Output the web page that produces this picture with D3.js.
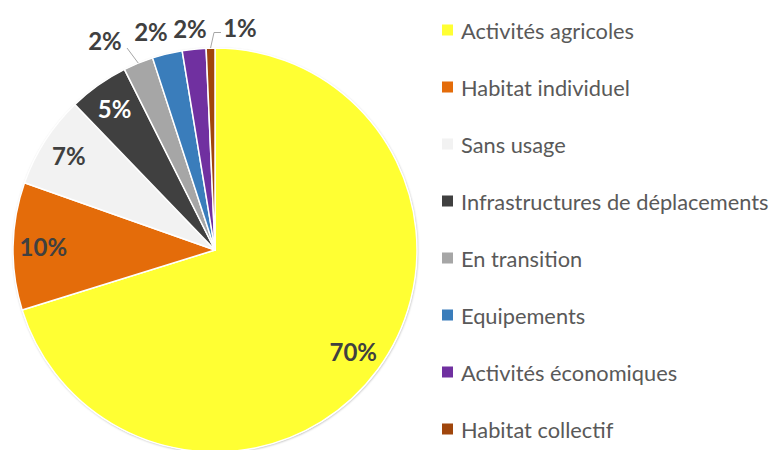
<!DOCTYPE html>
<html><head><meta charset="utf-8">
<script src="https://cdn.jsdelivr.net/npm/d3@7/dist/d3.min.js"></script>
<style>body{margin:0;background:#fff}svg{display:block}</style>
</head><body>
<svg id="chart" width="773" height="450"></svg>
<script>
const categories = ["Activités agricoles","Habitat individuel","Sans usage","Infrastructures de déplacements","En transition","Equipements","Activités économiques","Habitat collectif"];
const values = [70.2, 10.2, 7.4, 4.8, 2.4, 2.4, 1.9, 0.7];
const colors = ["#FFFF33","#E46C0A","#F2F2F2","#404040","#A6A6A6","#3A7DBB","#7030A0","#A0460C"];
const labelColors = ["#404040","#404040","#404040","#FFFFFF","#404040","#404040","#404040","#404040"];

const svg = d3.select("#chart");
const cx = 215, cy = 250, r = 202;
const total = d3.sum(values);
const data = categories.map((c,i)=>({name:c, value:values[i], color:colors[i], lc:labelColors[i]}));

const pie = d3.pie().value(d=>d.value).sort(null).startAngle(0).endAngle(2*Math.PI);
const arcs = pie(data);
const arc = d3.arc().innerRadius(0).outerRadius(r);

const defs = svg.append("defs");
const f = defs.append("filter").attr("id","sh").attr("x","-10%").attr("y","-10%").attr("width","120%").attr("height","120%");
f.append("feDropShadow").attr("dx",0.5).attr("dy",0.8).attr("stdDeviation",1.2).attr("flood-color","#000").attr("flood-opacity",0.35);

const g = svg.append("g").attr("transform",`translate(${cx},${cy})`);
g.append("circle").attr("r",r).attr("fill","#fff").attr("filter","url(#sh)");
g.selectAll("path.slice").data(arcs).enter().append("path")
  .attr("class","slice").attr("d",arc).attr("fill",d=>d.data.color)
  .attr("stroke","#fff").attr("stroke-width",1.5).attr("stroke-linejoin","round");

const inside = [0.85, 0.85, 0.86, 0.86];
const fmt = d=>Math.round(d.value/total*100)+"%";
const lab = svg.append("g").attr("font-family","Lato, 'Open Sans', sans-serif").attr("font-weight","bold").attr("font-size","24px");
arcs.forEach((a,i)=>{
  const mid = (a.startAngle+a.endAngle)/2;
  let x, y;
  if (i < 4) {
    const rr = r*inside[i];
    x = cx + rr*Math.sin(mid); y = cy - rr*Math.cos(mid);
  } else {
    const outs = [[105,40],[151,31],[190,28],[240,27]];
    x = outs[i-4][0]; y = outs[i-4][1];
  }
  lab.append("text").attr("x",x).attr("y",y).attr("text-anchor","middle").attr("dominant-baseline","central")
    .attr("fill",a.data.lc).text(fmt(a.data));
});

function edge(i, extra){ const a=arcs[i]; const m=(a.startAngle+a.endAngle)/2; return [cx+(r+extra)*Math.sin(m), cy-(r+extra)*Math.cos(m)]; }
const e4 = edge(4,0);
svg.append("path").attr("d",`M${e4[0]},${e4[1]} L127,48`).attr("stroke","#A6A6A6").attr("fill","none").attr("stroke-width",1);
const e7 = edge(7,0);
svg.append("path").attr("d",`M${e7[0]},${e7[1]} L214,32.5 L221,32.5`).attr("stroke","#A6A6A6").attr("fill","none").attr("stroke-width",1);

const leg = svg.append("g").attr("font-family","Lato, 'Open Sans', sans-serif").attr("font-size","21.8px").attr("fill","#595959");
const ly = d3.scalePoint().domain(categories).range([30,429]);
data.forEach(d=>{
  const y = ly(d.name);
  leg.append("rect").attr("x",442).attr("y",y-5.5).attr("width",11).attr("height",11).attr("fill",d.color);
  leg.append("text").attr("x",461).attr("y",y).attr("dominant-baseline","central").text(d.name);
});
</script>
</body></html>
